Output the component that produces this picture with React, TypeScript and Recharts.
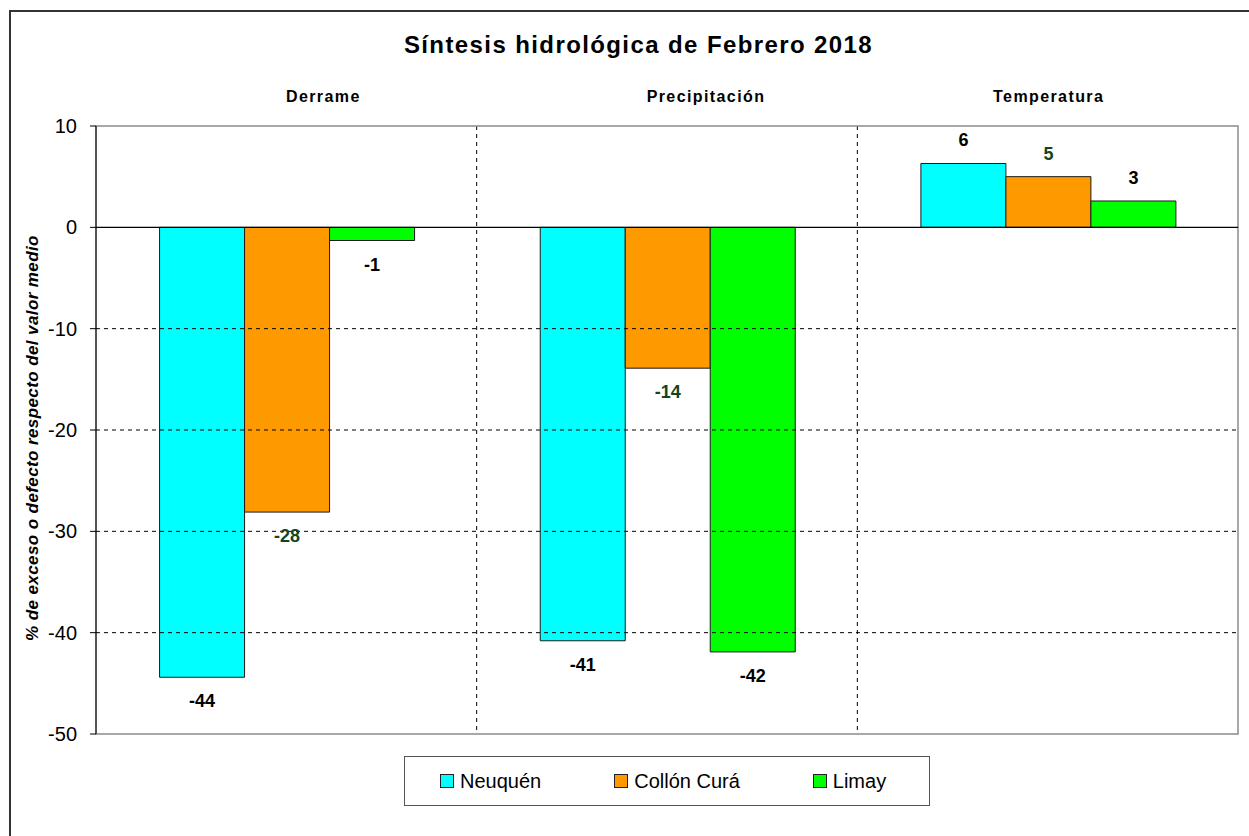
import { BarChart, Bar, XAxis, YAxis, CartesianGrid, ReferenceLine, ReferenceArea, LabelList } from 'recharts'

const categories = ['Derrame', 'Precipitación', 'Temperatura']
const neuquen = [-44.4, -40.8, 6.3]
const collonCura = [-28.1, -13.9, 5.0]
const limay = [-1.3, -41.9, 2.6]
const yTicks = [-50, -40, -30, -20, -10, 0, 10]
const gridValues = [-40, -30, -20, -10]

const FONT = '"Liberation Sans", Arial, sans-serif'

const series = [
  { key: 'neuquen', name: 'Neuquén', fill: '#00FFFF', labelColor: '#000000' },
  { key: 'collon', name: 'Collón Curá', fill: '#FF9900', labelColor: '#174417' },
  { key: 'limay', name: 'Limay', fill: '#00FF00', labelColor: '#000000' },
]

// header labels in the original are not centred on the bands
const headerShift = [37, 39, 1]

const data = categories.map((c, i) => ({
  category: c,
  neuquen: neuquen[i],
  collon: collonCura[i],
  limay: limay[i],
}))

const HeaderTick = ({ x, payload, index }: any) => (
  <text
    x={x + (headerShift[index] ?? 0)}
    y={102}
    textAnchor="middle"
    fontFamily={FONT}
    fontSize={16}
    fontWeight="bold"
    letterSpacing={1.4}
    fill="#000"
  >
    {payload.value}
  </text>
)

const valueLabel = (color: string) => (props: any) => {
  const { x, y, width, height, value } = props
  if (value == null) return null
  const top = Math.min(y, y + height)
  const bottom = Math.max(y, y + height)
  const ty = value < 0 ? bottom + 30 : top - 17
  return (
    <text
      x={x + width / 2}
      y={ty}
      textAnchor="middle"
      fontFamily={FONT}
      fontSize={18}
      fontWeight="bold"
      fill={color}
    >
      {Math.round(value)}
    </text>
  )
}

export default function App() {
  return (
    <div style={{ position: 'absolute', left: 0, top: 0, width: 1249, height: 836, background: '#fff', fontFamily: FONT, overflow: 'hidden' }}>
      <div style={{ position: 'absolute', left: 9, top: 10, width: 1260, height: 850, border: '2px solid #333', boxSizing: 'border-box' }} />
      <div style={{ position: 'absolute', left: 0, top: 31, width: 1277, textAlign: 'center', fontSize: 24, fontWeight: 'bold', letterSpacing: 1.4, color: '#000' }}>
        Síntesis hidrológica de Febrero 2018
      </div>
      <div
        style={{
          position: 'absolute',
          left: 33,
          top: 438,
          transform: 'translate(-50%, -50%) rotate(-90deg)',
          whiteSpace: 'nowrap',
          fontSize: 17,
          letterSpacing: 0.4,
          fontWeight: 'bold',
          fontStyle: 'italic',
          color: '#000',
        }}
      >
        % de exceso o defecto respecto del valor medio
      </div>

      <div style={{ position: 'absolute', left: 0, top: 0 }}>
        <BarChart
          width={1249}
          height={836}
          data={data}
          margin={{ top: 86, right: 11, bottom: 102, left: 36 }}
          barCategoryGap="16.7%"
          barGap={0}
        >
          <ReferenceArea y1={-50} y2={10} fill="none" stroke="#8c8c8c" strokeWidth={1.5} />
          <CartesianGrid
            horizontal={false}
            vertical
            stroke="#000"
            strokeDasharray="4 4"
            verticalCoordinatesGenerator={({ offset }: any) =>
              categories.slice(1).map((_, i) => offset.left + (offset.width * (i + 1)) / categories.length)
            }
          />
          {gridValues.map(v => (
            <ReferenceLine key={v} y={v} stroke="#000" strokeDasharray="4 4" />
          ))}
          <XAxis
            dataKey="category"
            orientation="top"
            height={40}
            axisLine={false}
            tickLine={false}
            tick={<HeaderTick />}
            interval={0}
          />
          <YAxis
            width={60}
            domain={[-50, 10]}
            ticks={yTicks}
            interval={0}
            allowDataOverflow
            axisLine={{ stroke: '#000' }}
            tickLine={{ stroke: '#000' }}
            tickSize={6}
            tickMargin={13}
            tick={{ fontSize: 20, fill: '#000', fontFamily: FONT }}
          />
          {series.map(s => (
            <Bar key={s.key} dataKey={s.key} name={s.name} fill={s.fill} stroke="#1a1a1a" strokeWidth={1} isAnimationActive={false}>
              <LabelList dataKey={s.key} content={valueLabel(s.labelColor)} />
            </Bar>
          ))}
          <ReferenceLine y={0} stroke="#000" strokeWidth={1.2} />
        </BarChart>
      </div>

      <div
        style={{
          position: 'absolute',
          left: 404,
          top: 756,
          width: 526,
          height: 50,
          border: '1.5px solid #555',
          boxSizing: 'border-box',
          display: 'flex',
          alignItems: 'center',
          paddingLeft: 35,
          gap: 73,
          fontSize: 20,
          color: '#000',
        }}
      >
        {series.map(s => (
          <div key={s.key} style={{ display: 'flex', alignItems: 'center' }}>
            <span style={{ width: 12, height: 12, background: s.fill, border: '1px solid #222', marginRight: 6, display: 'inline-block' }} />
            <span>{s.name}</span>
          </div>
        ))}
      </div>
    </div>
  )
}
